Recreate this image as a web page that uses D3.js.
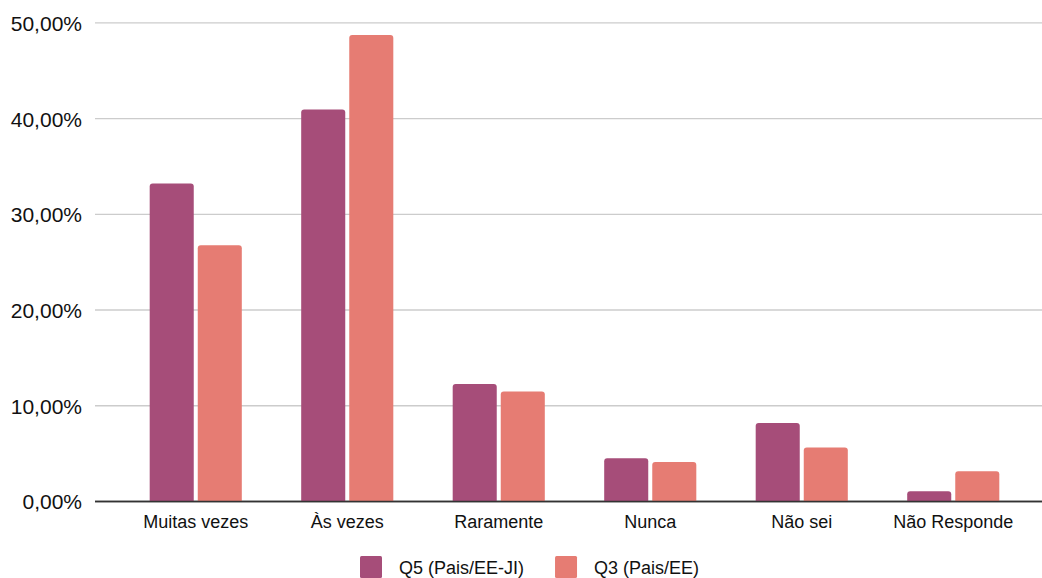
<!DOCTYPE html>
<html>
<head>
<meta charset="utf-8">
<script src="https://cdn.jsdelivr.net/npm/d3@7"></script>
<style>
  html, body { margin: 0; padding: 0; background: #fff; }
  svg { display: block; font-family: "Liberation Sans", Arial, sans-serif; }
</style>
</head>
<body>
<svg id="chart" width="1042" height="578"></svg>
<script>
// Response categories and the share of answers for each survey question
const categories = ["Muitas vezes", "Às vezes", "Raramente", "Nunca", "Não sei", "Não Responde"];
const seriesNames = ["Q5 (Pais/EE-JI)", "Q3 (Pais/EE)"];
const q5Values = [33.16, 40.89, 12.21, 4.46, 8.14, 1.01];
const q3Values = [26.72, 48.67, 11.45, 4.07, 5.60, 3.10];
const yTicks = [0, 10, 20, 30, 40, 50];
const colors = ["#a64d79", "#e67c73"];

const seriesValues = [q5Values, q3Values];

const svg = d3.select("#chart");
const plot = { left: 95, right: 1042, top: 22.3, bottom: 501 };

const y = d3.scaleLinear().domain([0, 50]).range([plot.bottom, plot.top]);

const x0 = d3.scaleBand()
  .domain(categories)
  .range([120, 1029])
  .paddingInner(0.392)
  .paddingOuter(0.196);

const x1 = d3.scaleBand()
  .domain(seriesNames)
  .range([0, x0.bandwidth()])
  .paddingInner(4 / 48)
  .paddingOuter(0);

const fmt = v => d3.format(".2f")(v).replace(".", ",") + "%";

// Horizontal gridlines with percentage labels
const yAxis = d3.axisLeft(y)
  .tickValues(yTicks)
  .tickFormat(fmt)
  .tickSize(-(plot.right - plot.left))
  .tickPadding(13);

const gy = svg.append("g")
  .attr("transform", `translate(${plot.left},0)`)
  .call(yAxis);
gy.select(".domain").remove();
gy.selectAll(".tick line")
  .attr("stroke", d => d === 0 ? "#333" : "#cccccc")
  .attr("stroke-width", d => d === 0 ? 1.4 : 1.3);
gy.selectAll(".tick text")
  .attr("font-size", 21)
  .attr("fill", "#111")
  .attr("font-family", "'Liberation Sans', Arial, sans-serif")
  .attr("dy", "0.38em")
  .attr("x", -13);

// Bars with slightly rounded top corners
function topRounded(x, yTop, w, h, r) {
  r = Math.min(r, h, w / 2);
  return `M${x},${yTop + h}V${yTop + r}Q${x},${yTop} ${x + r},${yTop}` +
         `H${x + w - r}Q${x + w},${yTop} ${x + w},${yTop + r}V${yTop + h}Z`;
}

const groups = svg.append("g")
  .selectAll("g")
  .data(categories)
  .join("g")
  .attr("transform", c => `translate(${x0(c)},0)`);

groups.selectAll("path")
  .data((c, i) => seriesNames.map((s, j) => ({ s, j, v: seriesValues[j][i] })))
  .join("path")
  .attr("fill", d => colors[d.j])
  .attr("d", d => {
    const top = y(d.v);
    return topRounded(x1(d.s), top, x1.bandwidth(), plot.bottom - top, 3);
  });

// Baseline drawn above the bars
svg.append("line")
  .attr("x1", plot.left).attr("x2", plot.right)
  .attr("y1", plot.bottom + 0.5).attr("y2", plot.bottom + 0.5)
  .attr("stroke", "#333").attr("stroke-width", 1.4);

// Category labels
const xAxis = d3.axisBottom(x0).tickSize(0).tickPadding(0);
const gx = svg.append("g")
  .attr("transform", `translate(0,${plot.bottom})`)
  .call(xAxis);
gx.select(".domain").remove();
gx.selectAll(".tick text")
  .attr("font-size", 18)
  .attr("fill", "#111")
  .attr("font-family", "'Liberation Sans', Arial, sans-serif")
  .attr("dy", 0)
  .attr("y", 27);

// Legend
const legend = svg.append("g");
let lx = 360;
seriesNames.forEach((name, j) => {
  legend.append("rect")
    .attr("x", lx).attr("y", 556)
    .attr("width", 22).attr("height", 22)
    .attr("rx", 1.5)
    .attr("fill", colors[j]);
  const t = legend.append("text")
    .attr("x", lx + 39).attr("y", 573.5)
    .attr("font-size", 18)
    .attr("fill", "#111")
    .text(name);
  lx += 39 + t.node().getComputedTextLength() + 31;
});
</script>
</body>
</html>
